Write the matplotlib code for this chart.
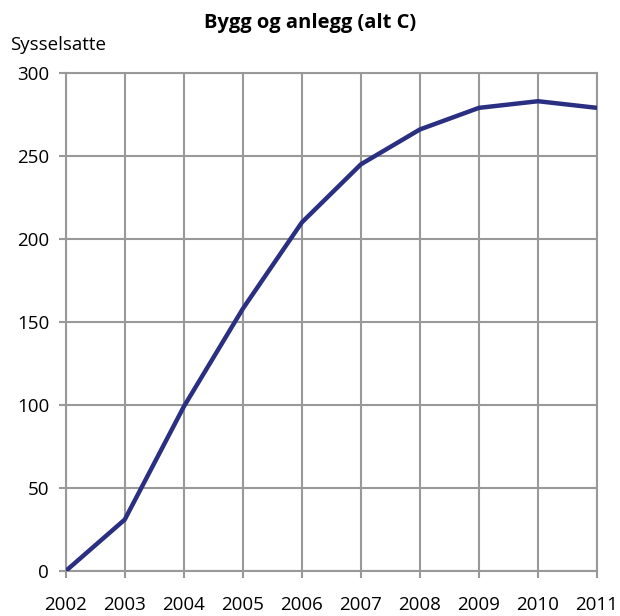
import numpy as np
import matplotlib.pyplot as plt

years = [2002, 2003, 2004, 2005, 2006, 2007, 2008, 2009, 2010, 2011]
sysselsatte = [0, 31, 99, 158, 210, 245, 266, 279, 283, 279]
y_ticks = [0, 50, 100, 150, 200, 250, 300]

plt.rcParams['font.family'] = ['Open Sans', 'DejaVu Sans']

fig = plt.figure(figsize=(6.2, 6.16), dpi=100)
ax = fig.add_axes([0.106, 0.073, 0.857, 0.8085])

grid_color = '#999999'
ax.plot(years, sysselsatte, color='#2B2F82', linewidth=3.2, solid_capstyle='butt', zorder=3)

ax.set_xlim(years[0], years[-1])
ax.set_ylim(0, 300)
ax.set_xticks(years)
ax.set_yticks(y_ticks)
ax.grid(True, color=grid_color, linewidth=1.5)
ax.set_axisbelow(True)
for s in ax.spines.values():
    s.set_color(grid_color)
    s.set_linewidth(1.5)
ax.tick_params(axis='both', colors=grid_color, labelcolor='black', labelsize=13.5,
               length=5, width=1.5)
ax.tick_params(axis='x', pad=13)
ax.tick_params(axis='y', pad=7)

fig.text(0.5, 0.962, 'Bygg og anlegg (alt C)', ha='center', va='center',
         fontsize=14.5, fontweight='bold')
fig.text(0.016, 0.927, 'Sysselsatte', ha='left', va='center', fontsize=13.5)

fig.savefig('out.png', dpi=100)
